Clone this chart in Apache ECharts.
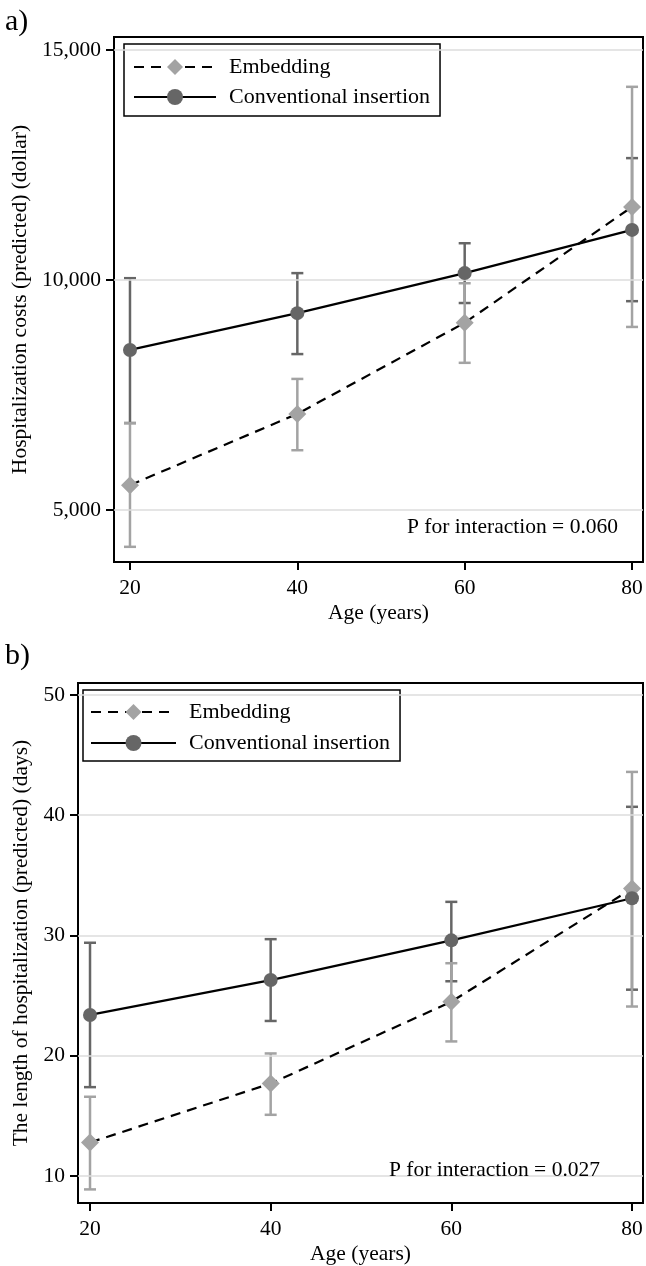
<!DOCTYPE html>
<html>
<head>
<meta charset="utf-8">
<script src="https://cdn.jsdelivr.net/npm/echarts@6/dist/echarts.min.js"></script>
<style>
  html, body { margin: 0; padding: 0; background: #fff; }
  #chart { width: 646px; height: 1266px; }
</style>
</head>
<body>
<div id="chart"></div>
<script>
const ages = [20, 40, 60, 80];
const xTicks = [20, 40, 60, 80];

// a) hospitalization costs
const embedCost = [5540, 7090, 9070, 11590];
const embedCostLo = [4200, 6300, 8200, 8980];
const embedCostHi = [6890, 7850, 9930, 14200];
const convCost = [8480, 9280, 10150, 11090];
const convCostLo = [6890, 8390, 9500, 9540];
const convCostHi = [10040, 10150, 10800, 12650];
const costTicks = [5000, 10000, 15000];

// b) length of stay
const embedLos = [12.8, 17.7, 24.5, 33.9];
const embedLosLo = [8.9, 15.1, 21.2, 24.1];
const embedLosHi = [16.6, 20.2, 27.7, 43.6];
const convLos = [23.4, 26.3, 29.6, 33.1];
const convLosLo = [17.4, 22.9, 26.2, 25.5];
const convLosHi = [29.4, 29.7, 32.8, 40.7];
const losTicks = [10, 20, 30, 40, 50];

const FONT = 'Liberation Serif';
const FS = 21.5;
const LIGHT = '#a3a3a3';
const DARK = '#666666';

const chart = echarts.init(document.getElementById('chart'), null, { renderer: 'canvas' });

function pts(xs, ys) {
  return xs.map((x, i) => [x, ys[i]]);
}
function bars(xs, lo, hi) {
  return xs.map((x, i) => [x, lo[i], hi[i]]);
}

function errRender(params, api) {
  const x = api.value(0);
  const lo = api.coord([x, api.value(1)]);
  const hi = api.coord([x, api.value(2)]);
  const w = 6;
  const style = { stroke: api.visual('color'), lineWidth: 2.5 };
  return {
    type: 'group',
    children: [
      { type: 'line', shape: { x1: lo[0], y1: lo[1], x2: hi[0], y2: hi[1] }, style: style },
      { type: 'line', shape: { x1: lo[0] - w, y1: lo[1], x2: lo[0] + w, y2: lo[1] }, style: style },
      { type: 'line', shape: { x1: hi[0] - w, y1: hi[1], x2: hi[0] + w, y2: hi[1] }, style: style }
    ]
  };
}

function xAxisFor(idx, min, max) {
  return {
    type: 'value', gridIndex: idx, min: min, max: max,
    name: 'Age (years)', nameLocation: 'middle', nameGap: 40,
    nameTextStyle: { fontFamily: FONT, fontSize: FS, color: '#000' },
    axisLine: { show: true, lineStyle: { color: '#000', width: 2 } },
    axisTick: { show: true, length: 8, lineStyle: { color: '#000', width: 2 }, customValues: xTicks },
    axisLabel: { fontFamily: FONT, fontSize: FS, color: '#000', margin: 15, customValues: xTicks },
    splitLine: { show: false }
  };
}

function yAxisFor(idx, min, max, ticks, name, nameGap, fmt) {
  return {
    type: 'value', gridIndex: idx, min: min, max: max,
    name: name, nameLocation: 'middle', nameGap: nameGap, nameRotate: 90,
    nameTextStyle: { fontFamily: FONT, fontSize: FS, color: '#000' },
    axisLine: { show: true, lineStyle: { color: '#000', width: 2 } },
    axisTick: { show: true, length: 8, lineStyle: { color: '#000', width: 2 }, customValues: ticks },
    axisLabel: { fontFamily: FONT, fontSize: FS, color: '#000', margin: 13, customValues: ticks, formatter: fmt },
    splitLine: { show: false }
  };
}

function gridLines(idx, ticks) {
  return {
    type: 'line', xAxisIndex: idx, yAxisIndex: idx, data: [], z: 0, silent: true,
    markLine: {
      silent: true, symbol: 'none', label: { show: false },
      lineStyle: { color: '#dcdcdc', type: 'solid', width: 1.5 },
      data: ticks.map(t => ({ yAxis: t }))
    }
  };
}

function errSeries(idx, data, color, z) {
  return {
    type: 'custom', xAxisIndex: idx, yAxisIndex: idx, z: z, silent: true,
    itemStyle: { color: color },
    encode: { x: 0, y: [1, 2] },
    renderItem: errRender,
    data: data
  };
}

function lineSeries(idx, name, data, dashed, symbol, size, color) {
  return {
    type: 'line', name: name, xAxisIndex: idx, yAxisIndex: idx, z: 5,
    data: data, symbol: symbol, symbolSize: size, showSymbol: true,
    lineStyle: { color: '#000', width: 2.2, type: dashed ? [10, 7] : 'solid' },
    itemStyle: { color: color, borderWidth: 0 },
    emphasis: { disabled: true }
  };
}

function legendFor(left, top, itemGap, padding, itemWidth) {
  return {
    orient: 'vertical', left: left, top: top,
    data: ['Embedding', 'Conventional insertion'],
    itemWidth: itemWidth, itemHeight: 20, itemGap: itemGap,
    padding: padding, borderColor: '#000', borderWidth: 1.5,
    selectedMode: false,
    textStyle: { fontFamily: FONT, fontSize: 22, color: '#000', padding: [0, 0, 0, 8] }
  };
}

const options = {
  animation: false,
  backgroundColor: '#fff',
  title: [
    { text: 'a)', left: 0, top: 2, textStyle: { fontFamily: FONT, fontSize: 30, fontWeight: 'normal', color: '#000' } },
    { text: 'b)', left: 0, top: 636, textStyle: { fontFamily: FONT, fontSize: 30, fontWeight: 'normal', color: '#000' } },
    { text: 'P for interaction = 0.060', right: 23, top: 511, textStyle: { fontFamily: FONT, fontSize: FS, fontWeight: 'normal', color: '#000' } },
    { text: 'P for interaction = 0.027', right: 41, top: 1154, textStyle: { fontFamily: FONT, fontSize: FS, fontWeight: 'normal', color: '#000' } }
  ],
  legend: [
    legendFor(124, 44, 8, [12, 10, 8, 9], 82),
    legendFor(83, 690, 9, [11, 10, 7, 7], 85)
  ],
  grid: [
    { left: 114, top: 37, width: 529, height: 525, show: true, borderColor: '#000', borderWidth: 2, backgroundColor: 'transparent' },
    { left: 78, top: 683, width: 565, height: 524, show: true, borderColor: '#000', borderWidth: 2, backgroundColor: 'transparent' }
  ],
  xAxis: [
    xAxisFor(0, 18.09, 81.31),
    xAxisFor(1, 18.67, 81.22)
  ],
  yAxis: [
    yAxisFor(0, 3870, 15283, costTicks, 'Hospitalization costs (predicted) (dollar)', 82,
      v => v.toLocaleString('en-US')),
    yAxisFor(1, 7.77, 50.99, losTicks, 'The length of hospitalization (predicted) (days)', 46,
      v => String(v))
  ],
  series: [
    gridLines(0, costTicks),
    gridLines(1, losTicks),
    errSeries(0, bars(ages, convCostLo, convCostHi), DARK, 1),
    errSeries(0, bars(ages, embedCostLo, embedCostHi), LIGHT, 2),
    errSeries(1, bars(ages, convLosLo, convLosHi), DARK, 1),
    errSeries(1, bars(ages, embedLosLo, embedLosHi), LIGHT, 2),
    lineSeries(0, 'Embedding', pts(ages, embedCost), true, 'diamond', 18, LIGHT),
    lineSeries(0, 'Conventional insertion', pts(ages, convCost), false, 'circle', 14, DARK),
    lineSeries(1, 'Embedding', pts(ages, embedLos), true, 'diamond', 18, LIGHT),
    lineSeries(1, 'Conventional insertion', pts(ages, convLos), false, 'circle', 14, DARK)
  ]
};

chart.setOption(options);
</script>
</body>
</html>
